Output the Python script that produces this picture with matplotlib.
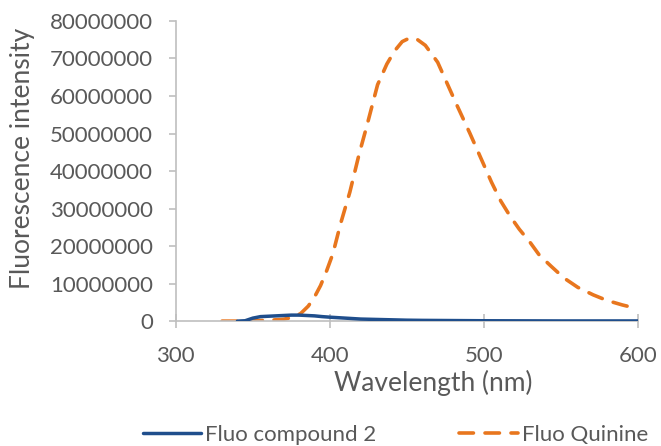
import matplotlib
matplotlib.use("Agg")
import matplotlib.pyplot as plt
import numpy as np

plt.rcParams['font.family'] = ['Lato', 'DejaVu Sans']

# Data
wl_compound = [340, 345, 350, 355, 360, 365, 370, 375, 380, 385, 390, 395, 400,
               410, 420, 430, 440, 450, 460, 480, 500, 550, 600]
fluo_compound = [0, 0.1e6, 0.8e6, 1.2e6, 1.3e6, 1.4e6, 1.5e6, 1.6e6, 1.6e6, 1.5e6,
                 1.4e6, 1.2e6, 1.05e6, 0.8e6, 0.55e6, 0.45e6, 0.35e6, 0.25e6,
                 0.2e6, 0.15e6, 0.1e6, 0.05e6, 0.05e6]

wl_quinine = [330, 340, 350, 360, 370, 376, 381, 386, 390, 394, 398, 402, 407, 413,
              419, 424, 431, 437, 442, 447, 452, 457, 462, 470, 476, 482, 491, 498,
              505, 511, 517, 523, 530, 536, 544, 552, 561, 571, 580, 590, 600]
fluo_quinine = [0, 0, 0.1e6, 0.2e6, 0.5e6, 1.0e6, 2.0e6, 4.0e6, 6.4e6, 9.5e6, 13.5e6,
                18e6, 26e6, 34.4e6, 44.5e6, 52e6, 63e6, 68.5e6, 72e6, 74.5e6, 75.5e6,
                75e6, 73.5e6, 69e6, 63.5e6, 58e6, 50e6, 43.5e6, 37e6, 32e6, 28e6,
                24.5e6, 21e6, 17.6e6, 14.5e6, 11.5e6, 9e6, 7e6, 5.5e6, 4.3e6, 3.3e6]

x_ticks = [300, 400, 500, 600]
y_ticks = [0, 10000000, 20000000, 30000000, 40000000, 50000000, 60000000, 70000000, 80000000]

grey = '#595959'
axis_grey = '#bfbfbf'

fig = plt.figure(figsize=(6.61, 4.46), dpi=100)
ax = fig.add_axes([0.266, 0.280, 0.699, 0.673])

ax.plot(wl_compound, fluo_compound, color='#1f4e8c', lw=2.5,
        solid_capstyle='round', label='Fluo compound 2', zorder=3)
ax.plot(wl_quinine, fluo_quinine, color='#e8761e', lw=2.6,
        dashes=(4, 3.2), dash_capstyle='round', label='Fluo Quinine', zorder=2)

ax.set_xlim(300, 600)
ax.set_ylim(0, 80000000)
ax.set_xticks(x_ticks)
ax.set_yticks(y_ticks)
ax.set_xticklabels([str(v) for v in x_ticks])
ax.set_yticklabels([str(v) for v in y_ticks])

for s in ['top', 'right']:
    ax.spines[s].set_visible(False)
for s in ['left', 'bottom']:
    ax.spines[s].set_color(axis_grey)
    ax.spines[s].set_linewidth(1.2)

ax.tick_params(axis='y', direction='out', length=5, width=1.2, color=axis_grey,
               labelsize=16, labelcolor=grey, pad=11.5)
ax.tick_params(axis='x', direction='inout', length=10, width=1.2, color=axis_grey,
               labelsize=16, labelcolor=grey, pad=13)

ax.set_xlabel('Wavelength (nm)', fontsize=19, color=grey)
ax.xaxis.set_label_coords(0.558, -0.163)
ax.set_ylabel('Fluorescence intensity', fontsize=19, color=grey)
ax.yaxis.set_label_coords(-0.305, 0.543)

leg = fig.legend(loc='center', bbox_to_anchor=(0.598, 0.025), ncol=2, frameon=False,
                 fontsize=16, handlelength=2.65, handletextpad=0.18, columnspacing=3.7)
for t in leg.get_texts():
    t.set_color(grey)

fig.savefig('out.png', dpi=100)
